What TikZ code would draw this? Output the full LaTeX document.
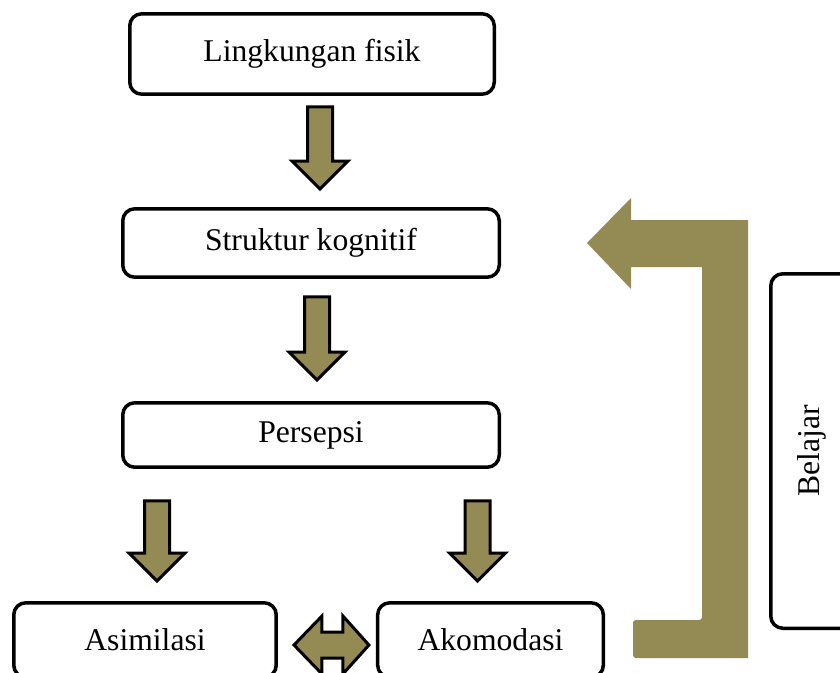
\documentclass[tikz,border=0pt]{standalone}
\usepackage{fontspec}
\setmainfont{Liberation Serif}
\usetikzlibrary{calc}
\definecolor{zaitun}{HTML}{948A54}
\tikzset{
	kotak/.style={draw=black, line width=0.0875cm, rounded corners=0.3cm, fill=white,
		font=\fontsize{22.5}{27}\selectfont, inner sep=0pt},
	panah/.style={draw=black, line width=0.075cm, fill=zaitun, line join=miter}
}
\def\panahturun(#1)(#2){\draw[panah] ($(#1)+(-12.5,0)$) -- ($(#1)+(12.5,0)$) -- ($(#2)+(12.5,-28)$) -- ($(#2)+(28,-28)$) -- (#2) -- ($(#2)+(-28,-28)$) -- ($(#2)+(-12.5,-28)$) -- cycle;}
\def\panahganda(#1)(#2){\draw[panah] (#1) -- ($(#1)+(28,-29)$) -- ($(#1)+(28,-13)$) -- ($(#2)+(-26,-13)$) -- ($(#2)+(-26,-29)$) -- (#2) -- ($(#2)+(-26,29)$) -- ($(#2)+(-26,13)$) -- ($(#1)+(28,13)$) -- ($(#1)+(28,29)$) -- cycle;}

\begin{document}
\begin{tikzpicture}[x=0.025cm, y=-0.025cm]
			%%%%% START %%%%%
			\useasboundingbox (0, 0) rectangle (840, 672);
			
			\node[kotak, minimum width=9.11cm, minimum height=2.01cm] (lingkungan) at (312, 54) {Lingkungan fisik};
			\node[kotak, minimum width=9.41cm, minimum height=1.71cm] (struktur) at (311, 243) {Struktur kognitif};
			\node[kotak, minimum width=9.41cm, minimum height=1.61cm] (persepsi) at (311, 435) {Persepsi};
			\node[kotak, minimum width=6.56cm, minimum height=1.86cm] (asimilasi) at (145, 640) {Asimilasi};
			\node[kotak, minimum width=5.64cm, minimum height=1.86cm] (akomodasi) at (490.5, 640) {Akomodasi};
			\node[kotak, rotate=90, minimum width=8.86cm, minimum height=2.06cm] (belajar) at (812, 451) {Belajar};
			
			\coordinate (p1a) at ($(lingkungan.south)+(8,11)$);
			\coordinate (p1b) at ($(p1a |- struktur.north)+(0,-18)$);
			\coordinate (p2a) at ($(struktur.south)+(6,18)$);
			\coordinate (p2b) at ($(p2a |- persepsi.north)+(0,-21)$);
			\coordinate (p3a) at ($(persepsi.south -| asimilasi.north)+(12,32)$);
			\coordinate (p3b) at ($(asimilasi.north)+(12,-20)$);
			\coordinate (p4a) at ($(persepsi.south -| akomodasi.north)+(-13,32)$);
			\coordinate (p4b) at ($(akomodasi.north)+(-13,-20)$);
			\coordinate (p5a) at ($(asimilasi.east)+(16,5)$);
			\coordinate (p5b) at ($(akomodasi.west)+(-7,5)$);
			
			\panahturun(p1a)(p1b)
			\panahturun(p2a)(p2b)
			\panahturun(p3a)(p3b)
			\panahturun(p4a)(p4b)
			\panahganda(p5a)(p5b)
			
			\fill[zaitun, rounded corners=2pt] (633, 620) -- (702, 620) [sharp corners] -- (702, 267) -- (631, 267) -- (631, 289) -- (587, 243) -- (631, 198) -- (631, 220) -- (748, 220) -- (748, 658) [rounded corners=2pt] -- (633, 658) -- cycle;
			
			%%%%% END %%%%%
		\end{tikzpicture}
\end{document}
